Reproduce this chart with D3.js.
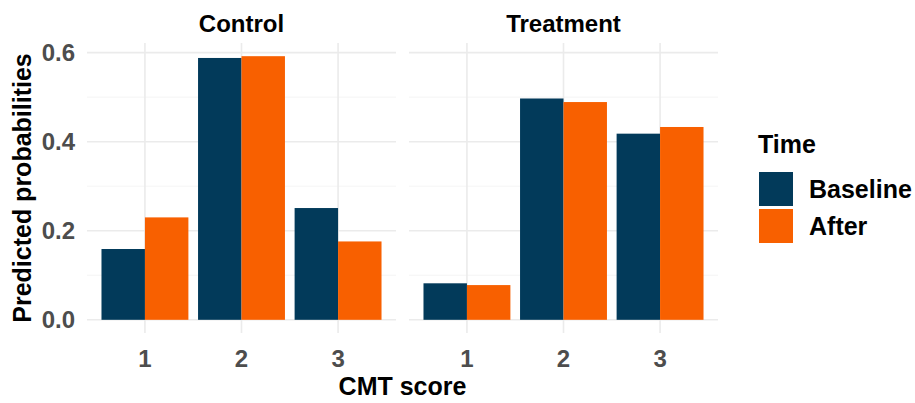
<!DOCTYPE html>
<meta charset="utf-8">
<head>
    <script src="https://d3js.org/d3.v7.min.js"></script>
    <style>
        body { margin: 0; background: #fff; }
        text { font-family: "Liberation Sans", Arial, Helvetica, sans-serif; font-weight: bold; }
        .grid-major line { stroke: #EBEBEB; stroke-width: 1.6; }
        .grid-minor line { stroke: #F3F3F3; stroke-width: 0.9; }
        .tick text { fill: #4D4D4D; font-size: 24px; }
    </style>
</head>
<body>
<div id="graph"></div>
<script>
    // data
    var panels = ["Control", "Treatment"];
    var scores = ["1", "2", "3"];
    var times = ["Baseline", "After"];
    var controlBaseline = [0.159, 0.588, 0.251];
    var controlAfter = [0.230, 0.592, 0.176];
    var treatmentBaseline = [0.082, 0.497, 0.418];
    var treatmentAfter = [0.078, 0.489, 0.433];
    var yTicks = [0, 0.2, 0.4, 0.6];
    var yMinor = [0.1, 0.3, 0.5];
    var colors = ["#023A5A", "#F86000"];

    var values = {
        Control: [controlBaseline, controlAfter],
        Treatment: [treatmentBaseline, treatmentAfter]
    };

    var width = 915, height = 403;
    var panelTop = 43, panelBottom = 333;
    var panelLeft = [87, 409], panelWidth = 309;

    var svg = d3.select("#graph")
      .append("svg")
        .attr("width", width)
        .attr("height", height);

    // y scale with ggplot style 5% expansion
    var yMax = d3.max([controlBaseline, controlAfter, treatmentBaseline, treatmentAfter].flat());
    var pad = yMax * 0.05;
    var y = d3.scaleLinear()
        .domain([-pad, yMax + pad])
        .range([panelBottom, panelTop]);

    var x = d3.scaleBand()
        .domain(scores)
        .range([0, panelWidth])
        .paddingInner(0.1)
        .paddingOuter(0.15);

    var xInner = d3.scaleBand()
        .domain(times)
        .range([0, x.bandwidth()]);

    var color = d3.scaleOrdinal().domain(times).range(colors);

    panels.forEach(function(p, pi) {
        var g = svg.append("g")
            .attr("transform", "translate(" + panelLeft[pi] + ",0)");

        // minor grid
        g.append("g").attr("class", "grid-minor")
            .selectAll("line").data(yMinor).enter().append("line")
            .attr("x1", 0).attr("x2", panelWidth)
            .attr("y1", function(d) { return y(d); })
            .attr("y2", function(d) { return y(d); });

        // major grid
        var gm = g.append("g").attr("class", "grid-major");
        gm.selectAll("line.h").data(yTicks).enter().append("line")
            .attr("class", "h")
            .attr("x1", 0).attr("x2", panelWidth)
            .attr("y1", function(d) { return y(d); })
            .attr("y2", function(d) { return y(d); });
        gm.selectAll("line.v").data(scores).enter().append("line")
            .attr("class", "v")
            .attr("x1", function(d) { return x(d) + x.bandwidth() / 2; })
            .attr("x2", function(d) { return x(d) + x.bandwidth() / 2; })
            .attr("y1", panelTop).attr("y2", panelBottom);

        // bars
        var rows = [];
        scores.forEach(function(s, si) {
            times.forEach(function(t, ti) {
                rows.push({ score: s, time: t, value: values[p][ti][si] });
            });
        });
        g.append("g").selectAll("rect").data(rows).enter().append("rect")
            .attr("x", function(d) { return x(d.score) + xInner(d.time); })
            .attr("y", function(d) { return y(d.value); })
            .attr("width", xInner.bandwidth())
            .attr("height", function(d) { return y(0) - y(d.value); })
            .attr("fill", function(d) { return color(d.time); });

        // x axis labels
        var xa = g.append("g")
            .attr("transform", "translate(0," + panelBottom + ")")
            .call(d3.axisBottom(x).tickSize(0).tickPadding(12));
        xa.select(".domain").remove();
        xa.selectAll(".tick text").attr("dy", null).attr("y", 34);

        // facet title
        g.append("text")
            .attr("x", panelWidth / 2)
            .attr("y", 32)
            .attr("text-anchor", "middle")
            .style("font-size", "24px")
            .attr("fill", "#000")
            .text(p);
    });

    // y axis
    var ya = svg.append("g")
        .attr("transform", "translate(" + panelLeft[0] + ",0)")
        .call(d3.axisLeft(y).tickValues(yTicks).tickFormat(d3.format(".1f")).tickSize(0).tickPadding(12));
    ya.select(".domain").remove();

    // y axis title
    svg.append("text")
        .attr("transform", "translate(31," + (panelTop + panelBottom) / 2 + ") rotate(-90)")
        .attr("text-anchor", "middle")
        .style("font-size", "25px")
        .attr("fill", "#000")
        .text("Predicted probabilities");

    // x axis title
    svg.append("text")
        .attr("x", (panelLeft[0] + panelLeft[1] + panelWidth) / 2)
        .attr("y", 395)
        .attr("text-anchor", "middle")
        .style("font-size", "25px")
        .attr("fill", "#000")
        .text("CMT score");

    // legend
    svg.append("text")
        .attr("x", 758).attr("y", 153)
        .style("font-size", "25px")
        .text("Time");
    var lg = svg.append("g").selectAll("g").data(times).enter().append("g")
        .attr("transform", function(d, i) { return "translate(759," + (172 + i * 37) + ")"; });
    lg.append("rect")
        .attr("width", 34).attr("height", 34)
        .attr("fill", function(d) { return color(d); });
    lg.append("text")
        .attr("x", 50).attr("y", 26)
        .style("font-size", "25px")
        .text(function(d) { return d; });
</script>
</body>
